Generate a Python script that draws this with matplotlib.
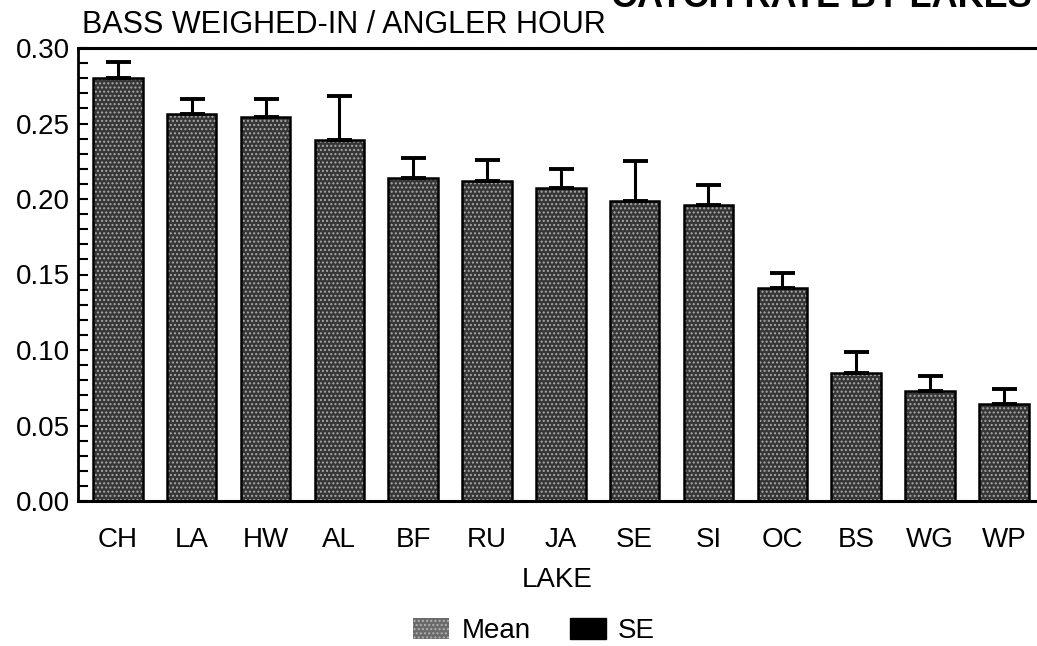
import matplotlib
matplotlib.use("Agg")
import matplotlib.pyplot as plt
from matplotlib.patches import Patch
import numpy as np

# lakes, mean catch rate and top of the SE whisker
lakes = ["CH", "LA", "HW", "AL", "BF", "RU", "JA", "SE", "SI", "OC", "BS", "WG", "WP"]
means = [0.280, 0.256, 0.254, 0.239, 0.214, 0.212, 0.207, 0.199, 0.196, 0.141, 0.085, 0.073, 0.064]
upper = [0.291, 0.266, 0.266, 0.268, 0.227, 0.226, 0.220, 0.225, 0.209, 0.151, 0.099, 0.083, 0.074]
se = [u - m for u, m in zip(upper, means)]

plt.rcParams['font.family'] = ['Liberation Sans', 'DejaVu Sans']
fs = 20

fig = plt.figure(figsize=(10.37, 6.46), dpi=100)
ax = fig.add_axes([78 / 1037, 1 - 501 / 646, 1 - 78 / 1037, (501 - 48) / 646])

x = np.arange(len(lakes))
w = 0.67
# stippled grey fill, then black outline on top
ax.bar(x, means, w, color='#363636', edgecolor='#a8a8a8', hatch='....', linewidth=0, zorder=2)
ax.bar(x, means, w, fill=False, edgecolor='black', linewidth=1.8, zorder=3)
ax.errorbar(x, means, yerr=[np.zeros(len(se)), se], fmt='none', ecolor='black',
            elinewidth=2.2, capsize=9, capthick=2.8, zorder=4)

ax.set_ylim(0, 0.30)
ax.set_xlim(-0.54, 12.45)
ax.set_yticks(np.arange(0, 0.301, 0.05))
ax.set_yticklabels([f"{v:.2f}" for v in np.arange(0, 0.301, 0.05)], fontsize=fs)
ax.set_yticks(np.arange(0, 0.301, 0.01), minor=True)
ax.tick_params(axis='y', which='both', direction='in', length=7, width=1.5, pad=6)
ax.set_xticks(x)
ax.set_xticklabels(lakes, fontsize=fs)
ax.tick_params(axis='x', length=0, pad=19)
ax.set_xlabel("LAKE", fontsize=fs, labelpad=10)

ax.spines['right'].set_visible(False)
ax.spines['left'].set_linewidth(2)
for s in ['top', 'bottom']:
    ax.spines[s].set_linewidth(2.2)
    ax.spines[s].set_linestyle((0, (1, 0.6)))

fig.text(82 / 1037, 1 - 33 / 646, "BASS WEIGHED-IN / ANGLER HOUR", fontsize=22, va='baseline', ha='left')
# main title, mostly cut off at the top edge as in the scan
fig.text(1032 / 1037, 1 + 20 / 646, "CATCH RATE BY LAKES", fontsize=26, fontweight='bold',
         va='top', ha='right')

handles = [Patch(facecolor='#6a6a6a', edgecolor='#b0b0b0', hatch='....', linewidth=0),
           Patch(facecolor='black', edgecolor='black')]
fig.legend(handles, ["Mean", "SE"], loc='lower center', bbox_to_anchor=(0.515, -0.036), ncol=2,
           frameon=False, fontsize=fs, handlelength=1.3, handleheight=0.8,
           handletextpad=0.45, columnspacing=1.4)

fig.savefig("out.png", dpi=100)
